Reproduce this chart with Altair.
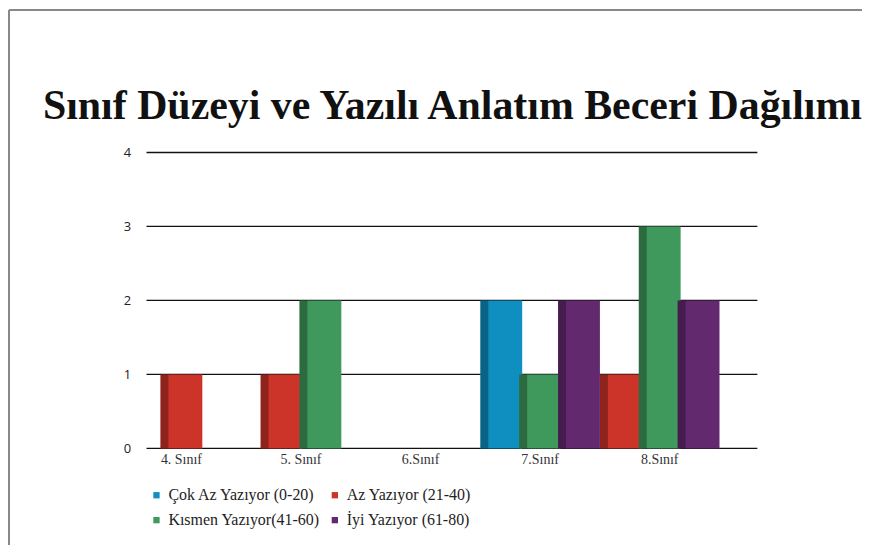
import altair as alt
import pandas as pd

title_text = "Sınıf Düzeyi ve Yazılı Anlatım Beceri Dağılımı"
categories = ["4. Sınıf", "5. Sınıf", "6.Sınıf", "7.Sınıf", "8.Sınıf"]
series = ["Çok Az Yazıyor (0-20)", "Az Yazıyor (21-40)", "Kısmen Yazıyor(41-60)", "İyi Yazıyor (61-80)"]
cok_az = [0, 0, 0, 2, 0]
az = [1, 1, 0, 0, 1]
kismen = [0, 2, 0, 1, 3]
iyi = [0, 0, 0, 2, 2]
grid_values = [0, 1, 2, 3, 4]
colors = ["#0f8fc0", "#cc3329", "#40995c", "#63296f"]

rows = []
for si, (name, vals) in enumerate(zip(series, [cok_az, az, kismen, iyi])):
    for cat, v in zip(categories, vals):
        rows.append({"category": cat, "series": name, "order": si, "value": v})
df = pd.DataFrame(rows)
grid_df = pd.DataFrame({"g": grid_values})
title_df = pd.DataFrame({"t": [title_text]})

base = alt.Chart(df).transform_filter(
    "datum.value > 0"
).transform_window(
    rank="row_number()", groupby=["category"], sort=[alt.SortField("order")]
).transform_joinaggregate(
    n="count()", groupby=["category"]
).transform_calculate(
    off="datum.rank - (datum.n + 1) / 2"
)

y_scale = alt.Scale(domain=[0, 4])

x_enc = alt.X(
    "category:N", sort=categories,
    scale=alt.Scale(domain=categories, range=[-25, 575], paddingInner=0, paddingOuter=0),
    axis=alt.Axis(title=None, ticks=False, domain=False, labelAngle=0,
                  labelFont="Liberation Serif", labelFontSize=14, labelColor="#333",
                  labelPadding=4),
)
y_enc = alt.Y(
    "value:Q", scale=y_scale,
    axis=alt.Axis(title=None, values=grid_values, format="d", grid=False, domain=False,
                  ticks=False, labelFont="Open Sans", labelFontSize=13, labelColor="#222",
                  labelPadding=16),
)

frame_left = alt.Chart(grid_df).mark_rule(color="#888", strokeWidth=2).encode(
    x=alt.value(-138), y=alt.value(-143), y2=alt.value(420)
)
frame_top = alt.Chart(grid_df).mark_rule(color="#888", strokeWidth=2).encode(
    x=alt.value(-138), x2=alt.value(760), y=alt.value(-143)
)

title = alt.Chart(title_df).mark_text(
    font="Liberation Serif", fontSize=42, fontWeight="bold", color="#111",
    align="center", baseline="alphabetic",
).encode(text="t:N", x=alt.value(307), y=alt.value(-34))

grid = alt.Chart(grid_df).mark_rule(color="#111", strokeWidth=1.4).encode(
    y=alt.Y("g:Q", scale=y_scale),
    x=alt.value(0),
    x2=alt.value(613),
)

bars = base.mark_bar(width=42).encode(
    x=x_enc,
    xOffset=alt.XOffset("off:Q", scale=alt.Scale(domain=[-1, 1], range=[21, 99])),
    y=y_enc,
    color=alt.Color(
        "series:N",
        scale=alt.Scale(domain=series, range=colors),
        legend=alt.Legend(title=None, orient="none", legendX=2, legendY=336,
                          columns=2, direction="horizontal", symbolType="square",
                          symbolSize=40, labelFont="Liberation Serif", labelFontSize=16,
                          labelColor="#222", columnPadding=7, rowPadding=9,
                          labelOffset=4),
    ),
)

side = base.mark_bar(width=8, color="black", opacity=0.3).encode(
    x=x_enc,
    xOffset=alt.XOffset("off:Q", scale=alt.Scale(domain=[-1, 1], range=[4, 82])),
    y=y_enc,
)

chart = alt.layer(frame_left, frame_top, title, grid, bars, side).resolve_scale(
    xOffset="independent"
).properties(
    width=613,
    height=297,
    autosize=alt.AutoSizeParams(type="none"),
    padding={"left": 139, "top": 144, "right": 105, "bottom": 96},
).configure(background="white").configure_view(stroke=None).configure_legend(
    labelFont="Liberation Serif", labelFontSize=16, labelColor="#222"
)

chart.save("out.html", embed_options={"renderer": "svg", "actions": False})
